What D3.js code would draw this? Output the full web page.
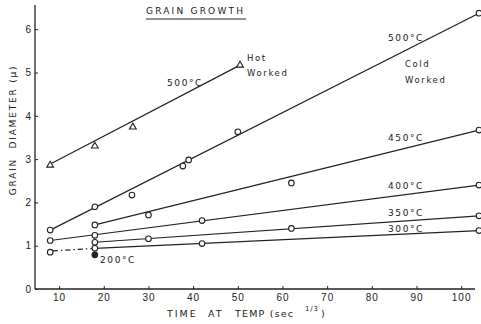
<!DOCTYPE html>
<html>
<head>
<meta charset="utf-8">
<script src="https://cdn.jsdelivr.net/npm/d3@7"></script>
<style>
  body { margin: 0; background: #fff; }
  svg { font-family: "DejaVu Sans", sans-serif; fill: #222; }
  .lbl { white-space: pre; }
</style>
</head>
<body>
<div id="chart"></div>
<script>
// frame size
const FRAME_WIDTH = 481;
const FRAME_HEIGHT = 324;

// data (time in sec^1/3, diameter in microns)
const xTicks = [10, 20, 30, 40, 50, 60, 70, 80, 90, 100];
const yTicks = [0, 1, 2, 3, 4, 5, 6];

// hot worked 500 C (triangles)
const hotTime = [8, 18, 26.5, 50.5];
const hotDiam = [2.86, 3.3, 3.74, 5.17];

// cold worked series (circles)
const t500 = [8, 18, 26.3, 37.7, 39, 50, 104];
const d500 = [1.36, 1.9, 2.17, 2.84, 2.98, 3.63, 6.37];
const t450 = [18, 30, 62, 104];
const d450 = [1.48, 1.71, 2.45, 3.67];
const t400 = [8, 18, 42, 104];
const d400 = [1.12, 1.24, 1.58, 2.4];
const t350 = [18, 30, 62, 104];
const d350 = [1.08, 1.16, 1.4, 1.69];
const t300 = [8, 18, 42, 104];
const d300 = [0.85, 0.94, 1.05, 1.35];
const t200 = [18];
const d200 = [0.79];

// fitted straight lines: [t0, d0, t1, d1]
const fitHot = [7.5, 2.86, 50.5, 5.17];
const fit500 = [8, 1.36, 104, 6.37];
const fit450 = [18, 1.48, 104, 3.67];
const fit400 = [8, 1.12, 104, 2.4];
const fit350 = [18, 1.08, 104, 1.69];
const fit300 = [18, 0.94, 104, 1.35];
const fit300dash = [8.6, 0.88, 18, 0.94];

const svg = d3.select("#chart")
  .append("svg")
    .attr("width", FRAME_WIDTH)
    .attr("height", FRAME_HEIGHT);

const X_SCALE = d3.scaleLinear().domain([4.6, 104]).range([35, 479]);
const Y_SCALE = d3.scaleLinear().domain([0, 6]).range([289, 29.2]);

// axes, restyled to look like the old plot
const xAxis = svg.append("g")
  .attr("transform", "translate(0," + Y_SCALE(0) + ")")
  .call(d3.axisBottom(X_SCALE).tickValues(xTicks).tickSize(-3).tickPadding(5).tickFormat(d3.format("d")));
xAxis.select(".domain").attr("d", "M35,0H475").attr("stroke", "#222").attr("stroke-width", 1.3);
xAxis.selectAll("text").attr("font-size", "10px").attr("fill", "#222").attr("letter-spacing", "1px");
xAxis.selectAll("line").attr("stroke", "#222");

const yAxis = svg.append("g")
  .attr("transform", "translate(35,0)")
  .call(d3.axisLeft(Y_SCALE).tickValues(yTicks).tickSize(-3).tickPadding(4).tickFormat(d3.format("d")));
yAxis.select(".domain").attr("d", "M0," + Y_SCALE(0) + "V5").attr("stroke", "#222").attr("stroke-width", 1.3);
yAxis.selectAll("text").attr("font-size", "10px").attr("fill", "#222");
yAxis.selectAll("line").attr("stroke", "#222");

// fitted lines
function fitLine(f, dash) {
  svg.append("line")
    .attr("x1", X_SCALE(f[0])).attr("y1", Y_SCALE(f[1]))
    .attr("x2", X_SCALE(f[2])).attr("y2", Y_SCALE(f[3]))
    .attr("stroke", "#222")
    .attr("stroke-width", 1.2)
    .attr("stroke-dasharray", dash || null);
}
[fitHot, fit500, fit450, fit400, fit350, fit300].forEach(f => fitLine(f));
fitLine(fit300dash, "5,3,1.5,3");

// circle markers
function circles(ts, ds, filled) {
  svg.selectAll(null)
    .data(ts.map((t, i) => ({t: t, d: ds[i]})))
    .enter()
    .append("circle")
      .attr("cx", d => X_SCALE(d.t))
      .attr("cy", d => Y_SCALE(d.d))
      .attr("r", 2.8)
      .attr("fill", filled ? "#222" : "#fff")
      .attr("stroke", "#222")
      .attr("stroke-width", 1.1);
}
circles(t500, d500);
circles(t450, d450);
circles(t400, d400);
circles(t350, d350);
circles(t300, d300);
circles(t200, d200, true);

// triangles for hot worked
svg.selectAll(null)
  .data(hotTime.map((t, i) => ({t: t, d: hotDiam[i]})))
  .enter()
  .append("path")
    .attr("d", d3.symbol().type(d3.symbolTriangle).size(20))
    .attr("transform", d => "translate(" + X_SCALE(d.t) + "," + Y_SCALE(d.d) + ")")
    .attr("fill", "#fff")
    .attr("stroke", "#222")
    .attr("stroke-width", 1.1);

// text labels
function label(txt, x, y, size, spacing) {
  return svg.append("text")
    .attr("class", "lbl")
    .attr("x", x).attr("y", y)
    .attr("font-size", size || "9px")
    .attr("letter-spacing", spacing || "1.6px")
    .text(txt);
}
label("GRAIN GROWTH", 146, 14, "9px", "2.2px");
svg.append("line").attr("x1", 146).attr("x2", 246).attr("y1", 19).attr("y2", 19)
  .attr("stroke", "#222").attr("stroke-width", 1.2);
label("500°C", 167, 86);
label("Hot", 247, 61, "8.5px");
label("Worked", 247, 76, "8.5px");
label("500°C", 388, 41);
label("Cold", 405, 67, "8.5px");
label("Worked", 405, 83, "8.5px");
label("450°C", 388, 141);
label("400°C", 388, 189);
label("350°C", 388, 216);
label("300°C", 388, 232);
label("200°C", 100, 263);

// x axis title, in pieces spaced like the original lettering
label("TIME", 167, 317, "9.5px", "2px");
label("AT", 208, 317, "9.5px", "2px");
label("TEMP (sec", 235, 317, "9.5px", "1.2px");
label("1/3", 305, 311, "7px", "0.8px");
label(")", 321, 317, "9.5px");

svg.append("text")
  .attr("class", "lbl")
  .attr("transform", "translate(16,130) rotate(-90)")
  .attr("text-anchor", "middle")
  .attr("font-size", "9px")
  .attr("letter-spacing", "1.8px")
  .text("GRAIN  DIAMETER (μ)");
</script>
</body>
</html>
